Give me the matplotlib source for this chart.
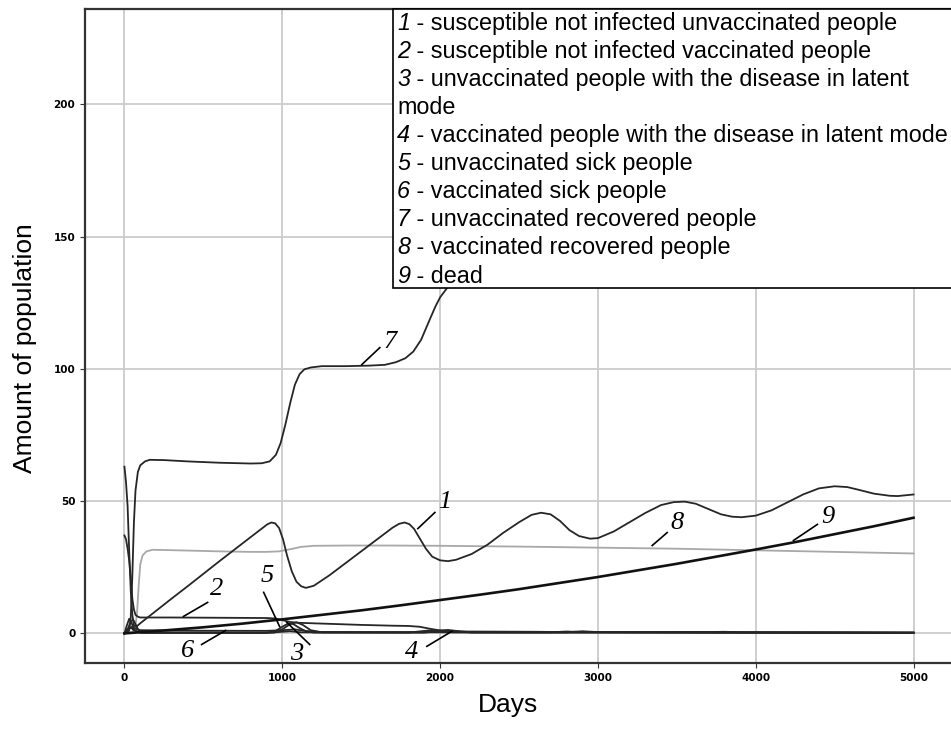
import matplotlib
matplotlib.use("Agg")
import matplotlib.pyplot as plt
from matplotlib.patches import Rectangle

# 1 - susceptible unvaccinated
t1 = [0, 10, 20, 30, 40, 50, 60, 75, 100, 200, 300, 400, 500, 600, 700, 800, 870, 905, 930, 955,
      980, 1005, 1030, 1060, 1090, 1120, 1150, 1200, 1300, 1400, 1500, 1600, 1700, 1740, 1775,
      1805, 1835, 1870, 1910, 1950, 2000, 2050, 2100, 2200, 2300, 2400, 2500, 2580, 2640, 2700,
      2760, 2820, 2880, 2950, 3000, 3100, 3200, 3300, 3400, 3480, 3550, 3620, 3700, 3780, 3850,
      3910, 4000, 4100, 4200, 4300, 4400, 4500, 4580, 4650, 4750, 4850, 4900, 5000]
s1 = [63, 57, 48, 31, 16, 7, 3, 2.5, 3.8, 8.5, 13.2, 17.8, 22.5, 27.2, 31.8, 36.4, 39.6, 41.2, 41.9, 41.6,
      39.8, 35.5, 29.5, 23.5, 19.5, 17.8, 17.2, 18, 22, 26.5, 31, 35.5, 40, 41.4, 41.9,
      41.3, 39.5, 36, 32, 29, 27.6, 27.3, 27.8, 30, 33.5, 38, 42, 44.8, 45.6, 45,
      42.5, 39, 36.8, 35.8, 36, 38.5, 42, 45.5, 48.5, 49.6, 49.8, 49, 47, 45, 44.1,
      43.9, 44.5, 46.5, 49.5, 52.5, 54.8, 55.6, 55.3, 54.3, 52.8, 52, 51.9, 52.5]

# 2 - susceptible vaccinated
t2 = [0, 10, 20, 30, 40, 50, 60, 70, 85, 100, 300, 600, 900, 960, 1000, 1050, 1100, 1300, 1500,
      1700, 1800, 1870, 1930, 2000, 2060, 2150, 2600, 2800, 3500, 4500, 5000]
s2 = [37, 35.5, 32, 27.5, 21, 13, 9, 7, 6.3, 6.0, 6.0, 5.9, 5.8, 5.6, 5.0, 4.3, 4.0, 3.6, 3.2,
      2.9, 2.8, 2.5, 1.8, 1.1, 0.8, 0.7, 0.6, 0.5, 0.4, 0.3, 0.25]

# 3 - unvaccinated latent
t3 = [0, 15, 30, 45, 60, 80, 120, 900, 960, 1000, 1040, 1070, 1110, 1150, 1200, 1800, 1880, 1950,
      2010, 2080, 2700, 2800, 2900, 3700, 3800, 3900, 5000]
s3 = [0, 3, 5.5, 4, 1.5, 0.5, 0.2, 0.2, 1.0, 2.5, 3.8, 3.5, 2.0, 0.8, 0.3, 0.3, 0.8, 1.2,
      0.9, 0.4, 0.4, 0.7, 0.5, 0.5, 0.6, 0.4, 0.3]

# 4 - vaccinated latent
t4 = [0, 20, 40, 60, 100, 900, 1000, 1050, 1120, 1900, 2000, 2080, 2200, 5000]
s4 = [0, 1.5, 2.2, 1.2, 0.3, 0.2, 0.6, 0.8, 0.4, 0.3, 0.8, 0.7, 0.35, 0.2]

# 5 - unvaccinated sick
t5 = [0, 20, 40, 55, 70, 90, 120, 950, 1000, 1050, 1090, 1130, 1180, 1250, 1900, 1980, 2050,
      2120, 2200, 2800, 2900, 3000, 5000]
s5 = [0, 1.5, 4.5, 5.2, 3.5, 1.0, 0.3, 0.3, 1.5, 3.5, 4.2, 3.2, 1.2, 0.4, 0.4, 1.0, 1.3,
      0.8, 0.4, 0.4, 0.8, 0.5, 0.3]

# 6 - vaccinated sick
t6 = [0, 30, 50, 70, 100, 500, 900, 1000, 1080, 1150, 1250, 2000, 5000]
s6 = [0, 2, 2.5, 1.8, 1.2, 1.0, 0.95, 1.2, 1.5, 0.9, 0.5, 0.4, 0.2]

# 7 - unvaccinated recovered
t7 = [0, 30, 40, 50, 60, 70, 85, 100, 130, 160, 250, 400, 600, 800, 870, 920, 960, 990, 1020,
      1050, 1080, 1110, 1140, 1180, 1250, 1400, 1550, 1650, 1720, 1780, 1830, 1880, 1930, 1970,
      2000, 2050, 2100, 2200, 2400, 2600, 2700, 2800, 2900, 3000, 3400, 3500, 3600, 3700, 3800,
      4200, 4350, 4450, 4550, 4700, 5000]
s7 = [0, 1, 6, 22, 42, 54, 61, 63.5, 65, 65.6, 65.5, 65, 64.5, 64.2, 64.3, 65, 67.5, 72, 79,
      87, 94, 98, 99.8, 100.5, 101, 101, 101.2, 101.5, 102.5, 104, 106.5, 111, 118, 123.5,
      127, 131, 134, 138, 140, 143, 150, 160, 166, 168, 170, 175, 184, 192, 195,
      197, 202, 210, 217, 221, 224.5]

# 8 - vaccinated recovered
t8 = [0, 50, 70, 80, 90, 100, 115, 140, 180, 400, 600, 800, 900, 980, 1050, 1120, 1200, 1400,
      1700, 2000, 2500, 3000, 3500, 4000, 4500, 5000]
s8 = [0, 0.5, 3, 8, 18, 26, 29.5, 31, 31.6, 31.3, 31, 30.8, 30.8, 31, 31.8, 32.7, 33.1, 33.2,
      33.2, 33.1, 32.8, 32.4, 32.0, 31.4, 30.8, 30.2]

# 9 - dead
t9 = [0, 250, 500, 750, 1000, 1250, 1500, 1750, 2000, 2250, 2500, 2750, 3000, 3250, 3500, 3750,
      4000, 4250, 4500, 4750, 5000]
s9 = [0, 1.1, 2.3, 3.7, 5.3, 7.0, 8.7, 10.6, 12.6, 14.6, 16.7, 19.0, 21.3, 23.8, 26.3, 29.0,
      31.7, 34.5, 37.5, 40.5, 43.7]

# legend rows: italic number, description
legend_rows = [
    ("1", " - susceptible not infected unvaccinated people"),
    ("2", " - susceptible not infected vaccinated people"),
    ("3", " - unvaccinated people with the disease in latent"),
    ("", "mode"),
    ("4", " - vaccinated people with the disease in latent mode"),
    ("5", " - unvaccinated sick people"),
    ("6", " - vaccinated sick people"),
    ("7", " - unvaccinated recovered people"),
    ("8", " - vaccinated recovered people"),
    ("9", " - dead"),
]

# curve labels: text, text position (day, value), leader start, leader tip
labels = [
    ("7", (1681, 110.3), (1618, 108.0), (1504, 101.6)),
    ("1", (2030, 49.5), (1967, 45.7), (1859, 39.6)),
    ("8", (3503, 41.9), (3439, 38.1), (3344, 33.2)),
    ("9", (4454, 43.8), (4391, 41.2), (4239, 35.1)),
    ("2", (584, 16.6), (527, 11.7), (374, 6.4)),
    ("5", (907, 21.5), (882, 15.5), (983, 2.6)),
    ("3", (1091, -7.9), (1174, -4.2), (1028, 4.2)),
    ("6", (400, -6.8), (489, -4.2), (641, 1.1)),
    ("4", (1821, -7.2), (1916, -4.9), (2075, 0.8)),
]

W, H = 951, 733
fig = plt.figure(figsize=(W / 100, H / 100), dpi=100)
ax = fig.add_axes([85 / W, (H - 663) / H, 868 / W, 654 / H])

dark = "#262626"
ax.plot(t8, s8, color="#a8a8a8", lw=1.3)
for t, s in [(t1, s1), (t2, s2), (t3, s3), (t4, s4), (t5, s5), (t6, s6), (t7, s7)]:
    ax.plot(t, s, color=dark, lw=1.3)
ax.plot(t9, s9, color="#111111", lw=1.9)

for txt, pos, start, tip in labels:
    ax.text(pos[0], pos[1], txt, fontsize=19, family="Liberation Serif", style="italic",
            ha="center", va="center")
    ax.plot([start[0], tip[0]], [start[1], tip[1]], color="black", lw=1.2)

ax.set_xlim(-250, 5250)
ax.set_ylim(-11.2, 236)
ax.set_xticks([0, 1000, 2000, 3000, 4000, 5000])
ax.set_yticks([0, 50, 100, 150, 200])
ax.grid(True, color="#cccccc", lw=1.3)
ax.set_axisbelow(True)
ax.tick_params(labelsize=7.5, length=3.5, color="#333333")
for lab in ax.get_xticklabels() + ax.get_yticklabels():
    lab.set_fontweight("bold")
for sp in ax.spines.values():
    sp.set_color("#333333")
    sp.set_linewidth(1.6)

# legend box
box = Rectangle((393 / W, 1 - 288 / H), (W - 392) / W, (288 - 9) / H, transform=fig.transFigure,
                facecolor="white", edgecolor="black", lw=1.2, zorder=5)
fig.patches.append(box)
num_w = 13  # width of one digit in pixels
for i, (num, desc) in enumerate(legend_rows):
    y = 1 - (23.3 + i * 28.08) / H
    if num:
        fig.text(397 / W, y, num, fontsize=16.8, family="Liberation Sans", style="italic",
                 ha="left", va="center", zorder=6)
        fig.text((397 + num_w) / W, y, desc, fontsize=16.8, family="Liberation Sans",
                 ha="left", va="center", zorder=6)
    else:
        fig.text(397 / W, y, desc, fontsize=16.8, family="Liberation Sans",
                 ha="left", va="center", zorder=6)

fig.text(508 / W, 1 - 705 / H, "Days", fontsize=19, family="Liberation Sans",
         ha="center", va="center")
fig.text(25 / W, 1 - 348 / H, "Amount of population", fontsize=19, family="Liberation Sans",
         ha="center", va="center", rotation=90)

fig.savefig("out.png", dpi=100)
